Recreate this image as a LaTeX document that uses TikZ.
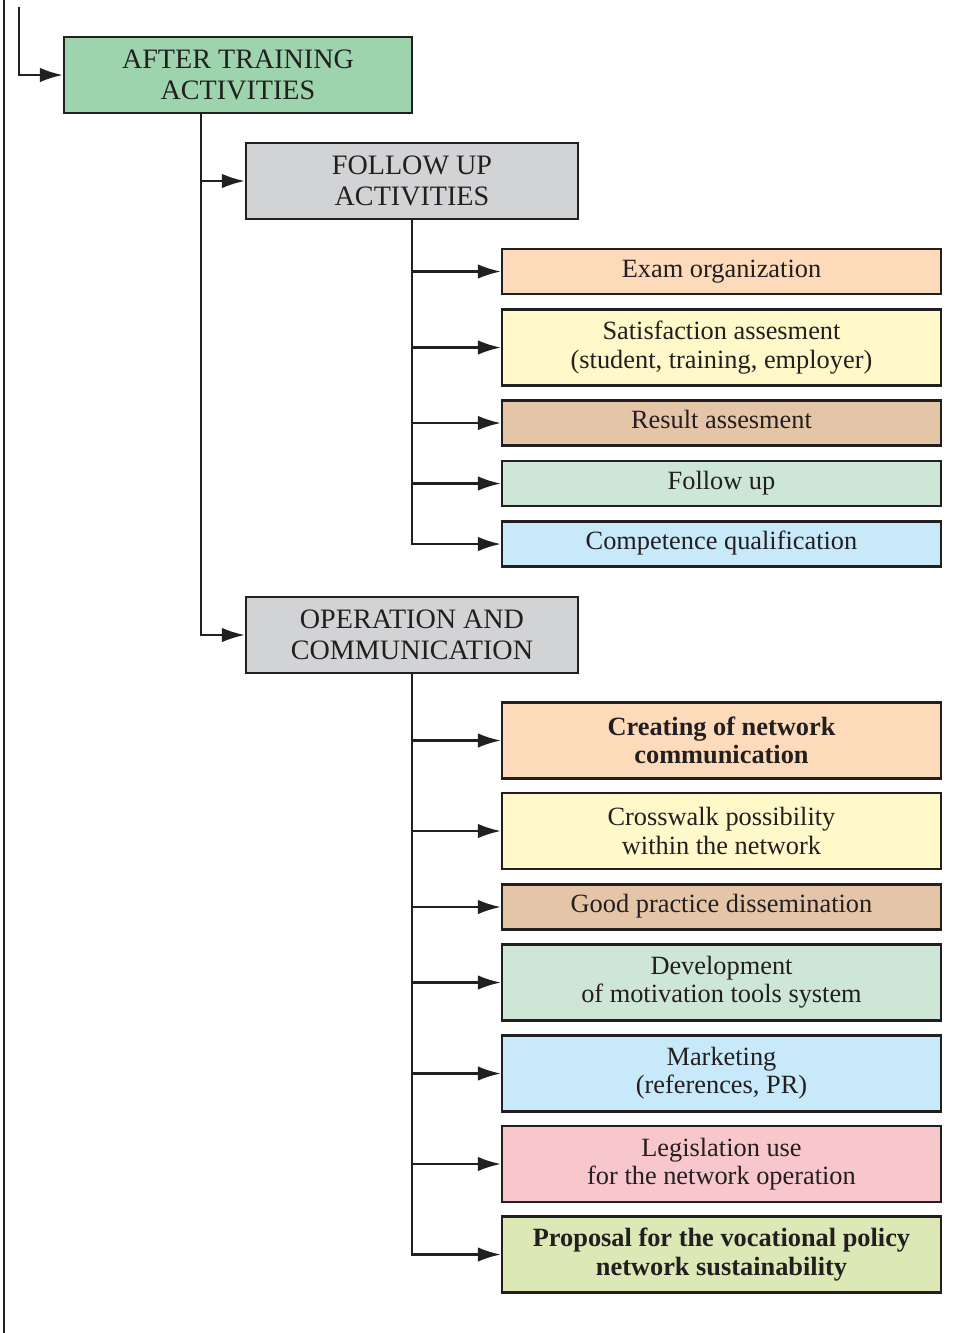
\documentclass[tikz,border=0pt]{standalone}
\usepackage{fontspec}
\setmainfont{Liberation Serif}
\usepackage{xcolor}
\usepackage{tikz}
\usetikzlibrary{arrows.meta, positioning}

\definecolor{inkline}{HTML}{231F20}
\definecolor{headgreen}{HTML}{9DD4AD}
\definecolor{headgray}{HTML}{D1D3D4}
\definecolor{peach}{HTML}{FDDAB9}
\definecolor{paleyellow}{HTML}{FFF9C9}
\definecolor{tan}{HTML}{E5C5A8}
\definecolor{mint}{HTML}{CDE6D5}
\definecolor{skyblue}{HTML}{C7E9F9}
\definecolor{rosepink}{HTML}{F8C7CC}
\definecolor{lime}{HTML}{DCE8B5}

\begin{document}
\begin{tikzpicture}[
  >={Latex[length=4.6mm, width=2.9mm]},
  link/.style={draw=inkline, line width=1.3pt},
  head/.style={draw=inkline, line width=1.3pt, minimum height=1.52cm,
    inner sep=0pt, align=center, text=inkline,
    font=\fontsize{16}{17.6}\selectfont},
  leaf/.style={draw=inkline, line width=1.3pt, minimum width=8.78cm,
    inner sep=0pt, align=center, text=inkline,
    font=\fontsize{15}{16}\selectfont},
]
\useasboundingbox (0,0) rectangle (19.4,-26.66);

% One activity box on the right-hand column
\newcommand{\actbox}[5]{%
  \node[leaf, fill=#3, minimum height=#4] (#1) at (14.43,#2) {#5};
}

% --- outer rails ---
\coordinate (railtop) at (0.08,0);
\coordinate (railbot) at (0.08,-26.66);
\coordinate (intop) at (0.38,-0.14);
\draw[link] (railtop) -- (railbot);

% --- headers ---
\node[head, fill=headgreen, minimum width=6.96cm] (after) at (4.76,-1.50)
  {AFTER TRAINING\\ACTIVITIES};
\node[head, fill=headgray, minimum width=6.64cm] (follow) at (8.24,-3.62)
  {FOLLOW UP\\ACTIVITIES};
\node[head, fill=headgray, minimum width=6.64cm] (ops) at (8.24,-12.70)
  {OPERATION AND\\COMMUNICATION};

% --- follow up activities ---
\actbox{exam}{-5.43}{peach}{0.9cm}{Exam organization\strut}
\actbox{satis}{-6.95}{paleyellow}{1.52cm}{Satisfaction assesment\\(student, training, employer)}
\actbox{result}{-8.46}{tan}{0.9cm}{Result assesment\strut}
\actbox{followup}{-9.67}{mint}{0.9cm}{Follow up\strut}
\actbox{compet}{-10.88}{skyblue}{0.9cm}{Competence qualification\strut}

% --- operation and communication ---
\actbox{create}{-14.81}{peach}{1.52cm}{\textbf{Creating of network}\\\textbf{communication}}
\actbox{cross}{-16.62}{paleyellow}{1.52cm}{Crosswalk possibility\\within the network}
\actbox{good}{-18.14}{tan}{0.9cm}{Good practice dissemination\strut}
\actbox{devel}{-19.65}{mint}{1.52cm}{Development\\of motivation tools system}
\actbox{market}{-21.47}{skyblue}{1.52cm}{Marketing\\(references, PR)}
\actbox{legis}{-23.28}{rosepink}{1.52cm}{Legislation use\\for the network operation}
\actbox{propos}{-25.09}{lime}{1.52cm}{\textbf{Proposal for the vocational policy}\\\textbf{network sustainability}}

% --- connectors ---
\coordinate (spine) at (4.02,0);
\draw[link, ->] (intop) |- (after.west);
\draw[link, ->] (after.south -| spine) |- (follow.west);
\draw[link, ->] (after.south -| spine) |- (ops.west);

\foreach \n in {exam, satis, result, followup, compet}
  \draw[link, ->] (follow.south) |- (\n.west);
\foreach \n in {create, cross, good, devel, market, legis, propos}
  \draw[link, ->] (ops.south) |- (\n.west);

\end{tikzpicture}
\end{document}
